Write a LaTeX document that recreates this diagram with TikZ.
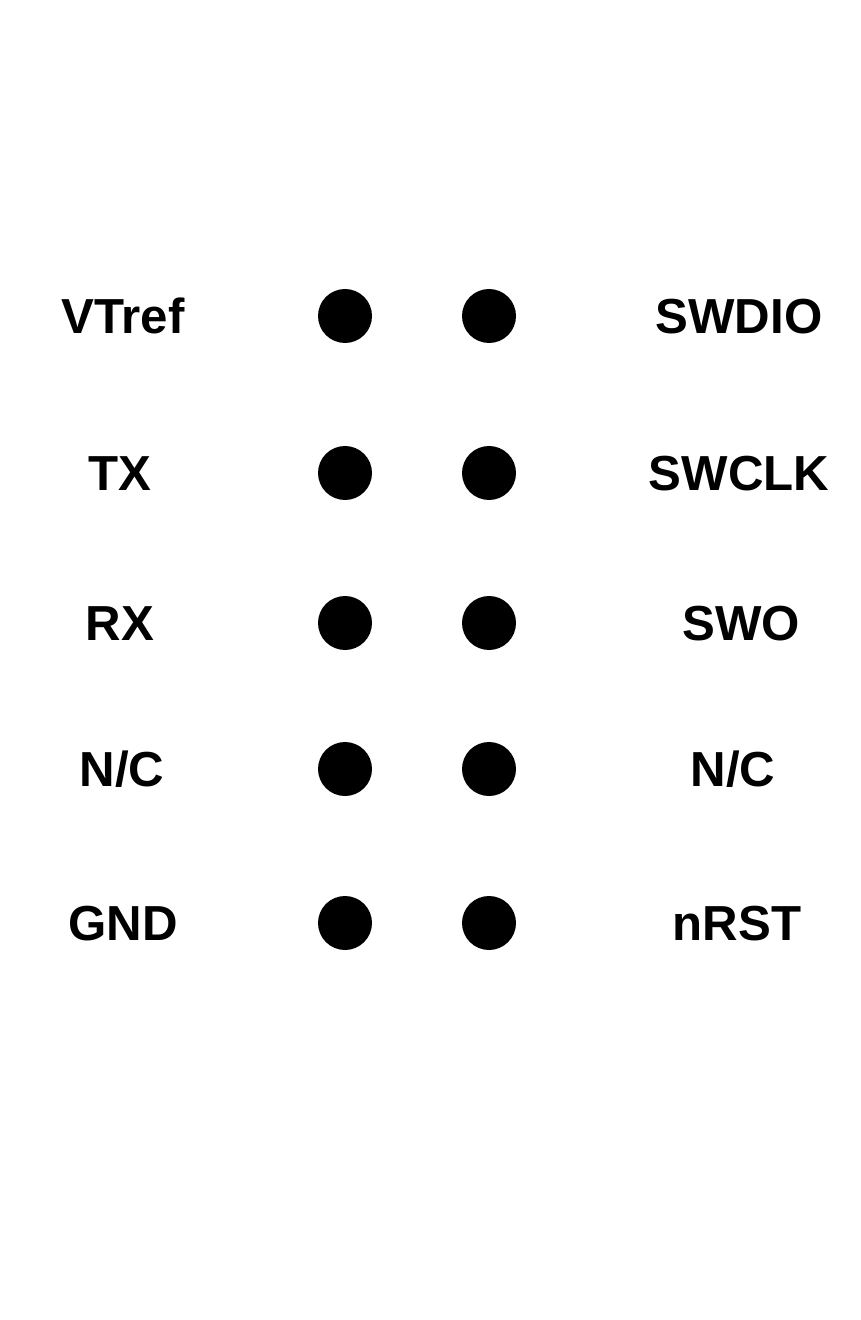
\documentclass[tikz,border=0pt]{standalone}
\usepackage{fontspec}
\setmainfont{Liberation Sans}
\tikzset{
	pindot/.style={circle,fill=black,inner sep=0pt,minimum size=0.54cm},
	pinlabel/.style={font=\bfseries\fontsize{14}{16}\selectfont,inner sep=0pt,anchor=base}
}
\begin{document}
\begin{tikzpicture}
	\useasboundingbox (0,0) rectangle (8.6,-13.2);
	% header rows: y, left label x, left text, right label x, right text
	\foreach \y/\lx/\ltxt/\rx/\rtxt [count=\i] in {
		3.16/1.23/VTref/7.39/SWDIO,
		4.73/1.20/TX/7.39/SWCLK,
		6.23/1.20/RX/7.41/SWO,
		7.69/1.22/N\slash C/7.33/N\slash C,
		9.23/1.23/GND/7.37/nRST}
	{
		\node[pindot] (pinL\i) at (3.45,-\y) {};
		\node[pindot] (pinR\i) at (4.89,-\y) {};
		\node[pinlabel] (labL\i) at (\lx,-\y-0.175) {\ltxt};
		\node[pinlabel] (labR\i) at (\rx,-\y-0.175) {\rtxt};
	}
\end{tikzpicture}
\end{document}
